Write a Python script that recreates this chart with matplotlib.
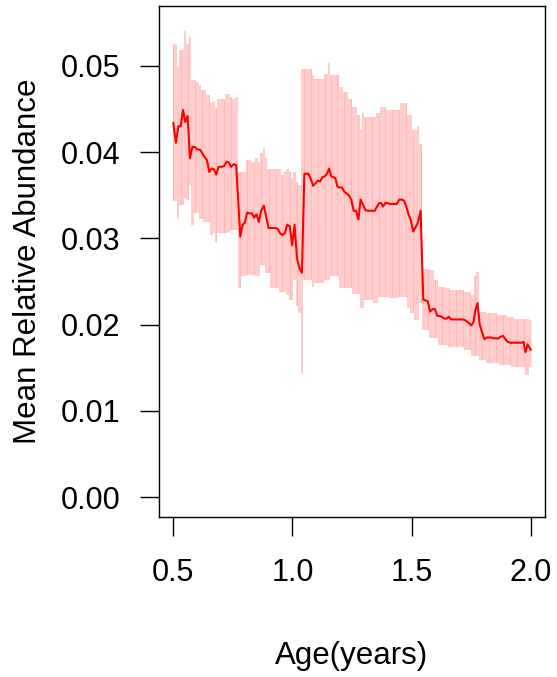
import numpy as np
import matplotlib.pyplot as plt

plt.rcParams['font.family'] = ['Liberation Sans', 'DejaVu Sans']

# ages (years)
age = [0.500, 0.511, 0.521, 0.531, 0.541, 0.550, 0.560, 0.570, 0.580, 0.591,
       0.601, 0.612, 0.621, 0.632, 0.641, 0.651, 0.661, 0.671, 0.680, 0.690,
       0.703, 0.714, 0.724, 0.733, 0.743, 0.753, 0.764, 0.781, 0.791, 0.800,
       0.810, 0.820, 0.830, 0.839, 0.849, 0.859, 0.869, 0.880, 0.890, 0.900,
       0.909, 0.919, 0.929, 0.939, 0.948, 0.958, 0.968, 0.978, 0.989, 0.999,
       1.009, 1.019, 1.030, 1.040, 1.050, 1.059, 1.067, 1.077, 1.087, 1.097,
       1.106, 1.116, 1.126, 1.136, 1.145, 1.154, 1.163, 1.171, 1.180, 1.189,
       1.198, 1.208, 1.218, 1.228, 1.237, 1.247, 1.257, 1.267, 1.277, 1.286,
       1.296, 1.306, 1.316, 1.325, 1.335, 1.345, 1.355, 1.364, 1.372, 1.380,
       1.390, 1.399, 1.409, 1.419, 1.429, 1.438, 1.448, 1.458, 1.468, 1.478,
       1.487, 1.497, 1.507, 1.517, 1.526, 1.538, 1.549, 1.559, 1.568, 1.578,
       1.588, 1.598, 1.608, 1.617, 1.627, 1.637, 1.647, 1.656, 1.666, 1.676,
       1.686, 1.696, 1.705, 1.715, 1.725, 1.735, 1.744, 1.751, 1.760, 1.768,
       1.777, 1.786, 1.796, 1.806, 1.815, 1.826, 1.835, 1.845, 1.855, 1.864,
       1.874, 1.884, 1.894, 1.903, 1.913, 1.923, 1.933, 1.943, 1.952, 1.962,
       1.970, 1.978, 1.987, 2.000]

# mean relative abundance
mean_ra = [0.0434, 0.0411, 0.0430, 0.0430, 0.0449, 0.0435, 0.0442, 0.0393, 0.0406, 0.0406,
           0.0403, 0.0403, 0.0399, 0.0394, 0.0391, 0.0377, 0.0381, 0.0380, 0.0374, 0.0383,
           0.0383, 0.0384, 0.0389, 0.0388, 0.0383, 0.0386, 0.0385, 0.0302, 0.0316, 0.0318,
           0.0330, 0.0329, 0.0329, 0.0324, 0.0328, 0.0319, 0.0332, 0.0338, 0.0325, 0.0312,
           0.0312, 0.0312, 0.0312, 0.0311, 0.0306, 0.0304, 0.0306, 0.0316, 0.0314, 0.0292,
           0.0316, 0.0277, 0.0265, 0.0260, 0.0375, 0.0375, 0.0375, 0.0369, 0.0361, 0.0364,
           0.0367, 0.0366, 0.0371, 0.0372, 0.0375, 0.0381, 0.0372, 0.0371, 0.0370, 0.0360,
           0.0359, 0.0359, 0.0354, 0.0352, 0.0350, 0.0345, 0.0332, 0.0332, 0.0322, 0.0345,
           0.0339, 0.0333, 0.0332, 0.0332, 0.0332, 0.0332, 0.0337, 0.0341, 0.0341, 0.0337,
           0.0341, 0.0341, 0.0340, 0.0340, 0.0340, 0.0340, 0.0345, 0.0345, 0.0344, 0.0337,
           0.0328, 0.0321, 0.0308, 0.0313, 0.0318, 0.0332, 0.0229, 0.0228, 0.0227, 0.0215,
           0.0218, 0.0218, 0.0210, 0.0210, 0.0209, 0.0207, 0.0207, 0.0209, 0.0206, 0.0206,
           0.0206, 0.0206, 0.0206, 0.0206, 0.0205, 0.0203, 0.0201, 0.0199, 0.0203, 0.0217,
           0.0225, 0.0200, 0.0191, 0.0183, 0.0185, 0.0185, 0.0185, 0.0184, 0.0184, 0.0184,
           0.0186, 0.0187, 0.0183, 0.0180, 0.0179, 0.0179, 0.0179, 0.0179, 0.0179, 0.0179,
           0.0180, 0.0168, 0.0177, 0.0171]

# upper / lower bounds
upper = [0.0526, 0.0524, 0.0499, 0.0519, 0.0519, 0.0541, 0.0526, 0.0534, 0.0484, 0.0484,
         0.0482, 0.0478, 0.0472, 0.0472, 0.0466, 0.0466, 0.0457, 0.0459, 0.0451, 0.0462,
         0.0462, 0.0462, 0.0467, 0.0467, 0.0464, 0.0462, 0.0464, 0.0377, 0.0377, 0.0377,
         0.0391, 0.0391, 0.0389, 0.0389, 0.0393, 0.0389, 0.0399, 0.0405, 0.0393, 0.0381,
         0.0381, 0.0381, 0.0381, 0.0381, 0.0381, 0.0374, 0.0377, 0.0381, 0.0377, 0.0370,
         0.0377, 0.0366, 0.0362, 0.0497, 0.0497, 0.0497, 0.0497, 0.0497, 0.0490, 0.0485,
         0.0485, 0.0485, 0.0485, 0.0491, 0.0491, 0.0503, 0.0490, 0.0490, 0.0490, 0.0490,
         0.0476, 0.0476, 0.0470, 0.0470, 0.0462, 0.0462, 0.0453, 0.0453, 0.0443, 0.0426,
         0.0445, 0.0441, 0.0441, 0.0441, 0.0441, 0.0441, 0.0445, 0.0445, 0.0453, 0.0453,
         0.0453, 0.0449, 0.0449, 0.0449, 0.0449, 0.0449, 0.0449, 0.0457, 0.0457, 0.0457,
         0.0443, 0.0443, 0.0426, 0.0426, 0.0430, 0.0410, 0.0265, 0.0265, 0.0265, 0.0263,
         0.0263, 0.0252, 0.0252, 0.0244, 0.0244, 0.0244, 0.0242, 0.0242, 0.0240, 0.0240,
         0.0240, 0.0240, 0.0240, 0.0240, 0.0238, 0.0238, 0.0238, 0.0234, 0.0234, 0.0256,
         0.0261, 0.0215, 0.0215, 0.0215, 0.0213, 0.0213, 0.0213, 0.0213, 0.0213, 0.0211,
         0.0211, 0.0211, 0.0211, 0.0209, 0.0209, 0.0209, 0.0207, 0.0207, 0.0207, 0.0207,
         0.0207, 0.0207, 0.0207, 0.0205]

lower = [0.0343, 0.0343, 0.0323, 0.0339, 0.0339, 0.0347, 0.0345, 0.0362, 0.0316, 0.0329,
         0.0329, 0.0323, 0.0323, 0.0319, 0.0319, 0.0319, 0.0304, 0.0306, 0.0296, 0.0306,
         0.0306, 0.0306, 0.0306, 0.0306, 0.0310, 0.0310, 0.0310, 0.0242, 0.0256, 0.0256,
         0.0258, 0.0258, 0.0258, 0.0258, 0.0256, 0.0256, 0.0269, 0.0269, 0.0260, 0.0260,
         0.0242, 0.0242, 0.0242, 0.0242, 0.0238, 0.0238, 0.0238, 0.0234, 0.0229, 0.0229,
         0.0252, 0.0221, 0.0213, 0.0144, 0.0252, 0.0252, 0.0252, 0.0252, 0.0244, 0.0248,
         0.0248, 0.0248, 0.0248, 0.0252, 0.0252, 0.0252, 0.0256, 0.0256, 0.0256, 0.0256,
         0.0242, 0.0242, 0.0242, 0.0242, 0.0242, 0.0242, 0.0236, 0.0236, 0.0236, 0.0219,
         0.0219, 0.0229, 0.0229, 0.0229, 0.0229, 0.0225, 0.0225, 0.0232, 0.0232, 0.0232,
         0.0232, 0.0232, 0.0231, 0.0231, 0.0231, 0.0231, 0.0232, 0.0232, 0.0232, 0.0232,
         0.0219, 0.0213, 0.0213, 0.0205, 0.0205, 0.0225, 0.0194, 0.0194, 0.0194, 0.0184,
         0.0184, 0.0184, 0.0184, 0.0176, 0.0176, 0.0176, 0.0176, 0.0174, 0.0174, 0.0174,
         0.0174, 0.0174, 0.0174, 0.0174, 0.0171, 0.0171, 0.0171, 0.0163, 0.0163, 0.0163,
         0.0163, 0.0159, 0.0159, 0.0159, 0.0155, 0.0155, 0.0155, 0.0155, 0.0155, 0.0155,
         0.0153, 0.0153, 0.0153, 0.0153, 0.0153, 0.0151, 0.0151, 0.0151, 0.0151, 0.0151,
         0.0151, 0.0142, 0.0142, 0.0151]

fig = plt.figure(figsize=(5.57, 6.77), dpi=100)
ax = fig.add_axes([159/557, 1 - 517/677, 386/557, 511/677])

# CI band: solid pale fill plus faint vertical segments like the original
ax.fill_between(age, lower, upper, step='mid', color='#FFCCCC', linewidth=0)
ax.vlines(age[::3], np.array(lower)[::3], np.array(upper)[::3],
          colors=(1, 0, 0, 0.12), linewidth=0.6)
ax.plot(age, mean_ra, color='red', linewidth=1.5)

ax.set_xlim(0.44, 2.06)
ax.set_ylim(-0.00232, 0.05696)
ax.set_xticks([0.5, 1.0, 1.5, 2.0])
ax.set_xticklabels(['0.5', '1.0', '1.5', '2.0'])
ax.set_yticks([0.00, 0.01, 0.02, 0.03, 0.04, 0.05])
ax.set_yticklabels(['0.00', '0.01', '0.02', '0.03', '0.04', '0.05'])

ax.tick_params(axis='both', labelsize=22, length=13.7, width=1.0, color='black')
ax.tick_params(axis='x', pad=16)
ax.tick_params(axis='y', pad=14)
for s in ax.spines.values():
    s.set_linewidth(1.0)

ax.set_xlabel("Age(years)", fontsize=22.5)
ax.set_ylabel("Mean Relative Abundance", fontsize=22.5)
ax.xaxis.set_label_coords(0.5, -0.243)
ax.yaxis.set_label_coords(-0.30, 0.5)

fig.savefig("out.png", dpi=100)
